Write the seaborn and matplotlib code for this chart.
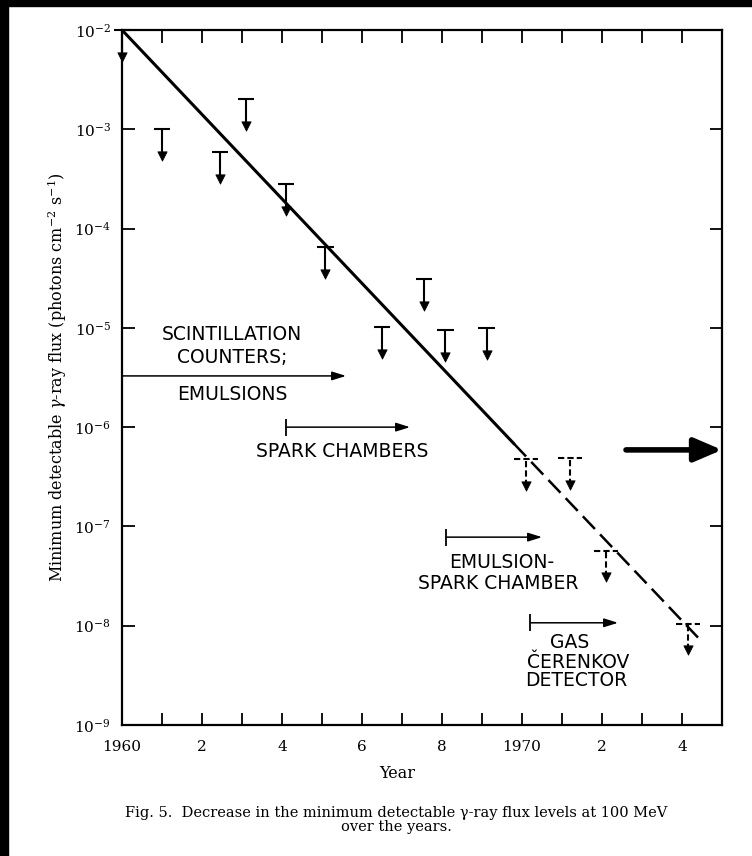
import matplotlib
matplotlib.use('Agg')
import matplotlib.pyplot as plt
from matplotlib.patches import Rectangle
from matplotlib.ticker import NullLocator
import seaborn as sns
import numpy as np
import pandas as pd

# measured upper limits (solid T's)
limit_years = [1960.0, 1961.0, 1962.45, 1963.1, 1964.1, 1965.08, 1966.5, 1967.55, 1968.08, 1969.12]
limit_flux = [1.0e-2, 1.0e-3, 5.9e-4, 2.0e-3, 2.8e-4, 6.5e-5, 1.02e-5, 3.1e-5, 9.5e-6, 1.0e-5]

# projected upper limits (dashed T's)
proj_years = [1970.1, 1971.2, 1972.1, 1974.15]
proj_flux = [4.8e-7, 4.9e-7, 5.7e-8, 1.05e-8]

# trend line: solid part and dashed extrapolation
trend_years = [1960.0, 1969.8]
trend_flux = [1.0e-2, 6.8e-7]
extrap_years = [1969.8, 1974.4]
extrap_flux = [6.8e-7, 7.6e-9]

# detector techniques (start year -> arrow end)
tech_start = [1960.0, 1964.1, 1968.1, 1970.2]
tech_end = [1965.6, 1967.2, 1970.5, 1972.4]
tech_flux = [3.28e-6, 1.0e-6, 7.8e-8, 1.07e-8]

pointer_flux = 5.9e-7

year_ticks = list(range(1960, 1975))
year_labels = ['1960', '', '2', '', '4', '', '6', '', '8', '', '1970', '', '2', '', '4']
flux_ticks = [1e-2, 1e-3, 1e-4, 1e-5, 1e-6, 1e-7, 1e-8, 1e-9]
flux_labels = [r'$10^{-2}$', r'$10^{-3}$', r'$10^{-4}$', r'$10^{-5}$',
               r'$10^{-6}$', r'$10^{-7}$', r'$10^{-8}$', r'$10^{-9}$']

sns.set_theme(style='ticks')
plt.rcParams['font.family'] = ['DejaVu Serif']
plt.rcParams['mathtext.fontset'] = 'dejavuserif'
plt.rcParams['text.color'] = 'black'
plt.rcParams['axes.labelcolor'] = 'black'

fig = plt.figure(figsize=(7.52, 8.56), dpi=100)
ax = fig.add_axes([122/752, 131/856, 600/752, 695/856])

trend = pd.DataFrame({'year': trend_years, 'flux': trend_flux})
extrap = pd.DataFrame({'year': extrap_years, 'flux': extrap_flux})
sns.lineplot(data=trend, x='year', y='flux', color='black', lw=2.2, ax=ax)
sns.lineplot(data=extrap, x='year', y='flux', color='black', lw=1.8, ax=ax,
             linestyle=(0, (7, 3)))

ax.set_yscale('log')
ax.set_xlim(1960, 1975)
ax.set_ylim(1e-9, 1e-2)


def upper_limits(xs, ys, half, ls):
    xs = np.asarray(xs)
    ys = np.asarray(ys)
    tips = ys * 10**-0.27
    ax.hlines(ys, xs - half, xs + half, color='black', lw=1.5, linestyles=ls, clip_on=False)
    ax.vlines(xs, tips, ys, color='black', lw=1.5, linestyles=ls, clip_on=False)
    sns.scatterplot(x=xs, y=tips, marker='v', s=45, color='black', edgecolor='black',
                    ax=ax, clip_on=False, zorder=5)


upper_limits(limit_years, limit_flux, 0.21, 'solid')
upper_limits(proj_years, proj_flux, 0.3, (0, (3, 1.5)))

for s, e, f in zip(tech_start, tech_end, tech_flux):
    ax.annotate('', xy=(e, f), xytext=(s, f),
                arrowprops=dict(arrowstyle='-|>,head_length=0.7,head_width=0.22',
                                color='black', lw=1.1, shrinkA=0, shrinkB=0))
    ax.vlines(s, f / 10**0.085, f * 10**0.085, color='black', lw=1.3)

sans = 'DejaVu Sans'
tkw = dict(ha='center', va='center', family=sans, fontsize=13.5, color='black')
ax.text(1962.75, 10**-5.07, 'SCINTILLATION', **tkw)
ax.text(1962.75, 10**-5.30, 'COUNTERS;', **tkw)
ax.text(1962.75, 10**-5.67, 'EMULSIONS', **tkw)
ax.text(1965.5, 10**-6.25, 'SPARK CHAMBERS', **tkw)
ax.text(1969.5, 10**-7.36, 'EMULSION-', **tkw)
ax.text(1969.4, 10**-7.57, 'SPARK CHAMBER', **tkw)
ax.text(1971.2, 10**-8.17, 'GAS', **tkw)
ax.text(1971.4, 10**-8.37, 'ČERENKOV', **tkw)
ax.text(1971.35, 10**-8.55, 'DETECTOR', **tkw)

# pointer arrow at the right edge
ax.annotate('', xy=(1975.0, pointer_flux), xytext=(1972.6, pointer_flux),
            arrowprops=dict(arrowstyle='-|>,head_length=1.4,head_width=0.6',
                            color='black', lw=4, shrinkA=0, shrinkB=0),
            annotation_clip=False)

ax.set_xticks(year_ticks)
ax.set_xticklabels(year_labels, fontsize=11)
ax.set_yticks(flux_ticks)
ax.set_yticklabels(flux_labels, fontsize=11)
ax.yaxis.set_minor_locator(NullLocator())
ax.tick_params(direction='in', length=9, width=1.3, top=True, right=True, colors='black')
ax.tick_params(axis='x', pad=11)
ax.tick_params(axis='y', pad=8)
for sp in ax.spines.values():
    sp.set_linewidth(1.6)
    sp.set_color('black')
    sp.set_visible(True)

ax.set_xlabel('Year', fontsize=11.5)
ax.xaxis.set_label_coords((397 - 122) / 600, -40 / 695)
ax.set_ylabel(r'Minimum detectable $\gamma$-ray flux (photons cm$^{-2}$ s$^{-1}$)', fontsize=11.5)
ax.yaxis.set_label_coords(-53 / 600, 0.5)

fig.text(396/752, 1 - 813/856, 'Fig. 5.  Decrease in the minimum detectable γ-ray flux levels at 100 MeV',
         ha='center', va='center', fontsize=10.5)
fig.text(396/752, 1 - 827/856, 'over the years.', ha='center', va='center', fontsize=10.5)

# scan border
fig.patches.append(Rectangle((0, 0), 8/752, 1, transform=fig.transFigure, color='black', zorder=10))
fig.patches.append(Rectangle((0, 1 - 6/856), 1, 6/856, transform=fig.transFigure, color='black', zorder=10))

fig.savefig('out.png', dpi=100, facecolor='white')
